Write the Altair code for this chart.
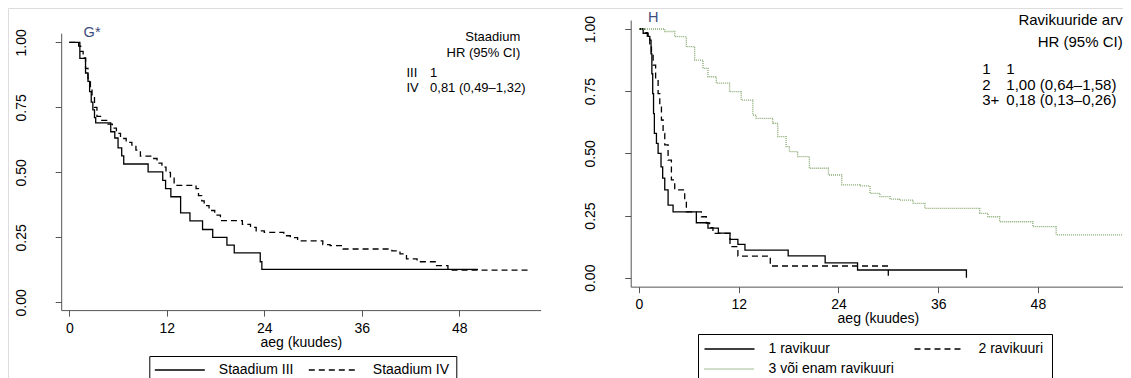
import altair as alt
import pandas as pd

# ---------------- data ----------------
x_ticks = [0, 12, 24, 36, 48]
y_ticks = [0.0, 0.25, 0.5, 0.75, 1.0]
x_title = "aeg (kuudes)"

# Panel G : Staadium
g_names = ["Staadium III", "Staadium IV"]
g3_t = [0, 1.3, 2.0, 2.3, 2.5, 2.7, 2.9, 3.1, 3.25, 5.1, 5.6, 6.0, 6.45, 6.7, 9.7,
        11.5, 11.85, 12.5, 13.7, 14.85, 16.4, 17.65, 19.4, 20.3, 23.5, 23.7, 50.3]
g3_s = [1.0, 0.938, 0.882, 0.85, 0.81, 0.77, 0.74, 0.71, 0.69, 0.656, 0.632, 0.594, 0.563, 0.532, 0.502,
        0.469, 0.437, 0.406, 0.344, 0.313, 0.28, 0.25, 0.22, 0.19, 0.156, 0.127, 0.127]
g4_t = [0, 1.15, 1.4, 1.7, 2.0, 2.3, 2.6, 2.8, 3.1, 3.4, 4.0, 4.6, 5.3, 5.8, 6.3, 7.0, 7.7,
        8.2, 8.75, 10.2, 10.8, 11.4, 11.9, 12.45, 12.9, 15.6, 15.9, 16.3, 16.6, 17.2, 17.9, 18.6,
        21.3, 22.3, 23.0, 24.0, 26.4, 27.2, 28.1, 31.2, 32.1, 33.7, 39.7, 40.7, 41.5, 42.8,
        45.2, 46.6, 56.8]
g4_s = [1.0, 0.985, 0.965, 0.94, 0.9, 0.86, 0.82, 0.79, 0.75, 0.715, 0.7, 0.685, 0.67, 0.65, 0.63, 0.615, 0.605,
        0.585, 0.562, 0.553, 0.535, 0.52, 0.5, 0.482, 0.45, 0.437, 0.41, 0.39, 0.372, 0.353, 0.335, 0.314,
        0.3, 0.288, 0.275, 0.269, 0.256, 0.249, 0.236, 0.222, 0.218, 0.205, 0.198, 0.186, 0.167, 0.156,
        0.141, 0.124, 0.124]
g_label = "G*"
g_hr_head = ["Staadium", "HR (95% CI)"]
g_hr_keys = ["III", "IV"]
g_hr_vals = ["1", "0,81 (0,49–1,32)"]

# Panel H : Ravikuuride arv
h_names = ["1 ravikuur", "2 ravikuuri", "3 või enam ravikuuri"]
h1_t = [0, 0.5, 1.1, 1.3, 1.45, 1.55, 1.65, 1.75, 1.85, 2.1, 2.3, 2.65, 2.85, 3.1, 3.5, 4.1,
        6.9, 8.3, 9.55, 10.95, 11.9, 12.75, 17.95, 22.4, 26.3, 39.4]
h1_s = [1.0, 0.983, 0.97, 0.955, 0.9, 0.82, 0.74, 0.66, 0.58, 0.54, 0.5, 0.446, 0.4, 0.353, 0.292, 0.265,
        0.221, 0.199, 0.179, 0.154, 0.134, 0.111, 0.088, 0.06, 0.031, 0.0]
h2_t = [0, 0.6, 1.0, 1.3, 1.5, 1.7, 2.0, 2.3, 2.5, 2.7, 2.9, 3.1, 3.5, 3.9, 4.3, 5.5, 5.7,
        7.5, 8.1, 8.5, 8.9, 10.95, 11.9, 15.8, 30.0]
h2_s = [1.0, 0.985, 0.97, 0.94, 0.9, 0.855, 0.8, 0.74, 0.69, 0.634, 0.58, 0.534, 0.473, 0.393, 0.353, 0.312, 0.265,
        0.245, 0.22, 0.201, 0.178, 0.125, 0.087, 0.047, 0.0]
h3_t = [0, 3.1, 4.3, 5.7, 6.7, 7.7, 8.3, 9.3, 10.9, 12.3, 13.7, 14.1, 16.1, 16.7, 17.7, 18.1, 19.1,
        20.5, 22.8, 24.4, 26.6, 27.8, 29.0, 30.2, 31.3, 33.0, 34.4, 41.0, 42.0, 43.4, 47.4, 50.2, 58.2]
h3_s = [1.0, 0.99, 0.969, 0.929, 0.875, 0.842, 0.808, 0.782, 0.748, 0.714, 0.654, 0.641, 0.621, 0.567, 0.527, 0.507, 0.487,
        0.44, 0.413, 0.373, 0.369, 0.339, 0.326, 0.316, 0.312, 0.299, 0.279, 0.259, 0.245, 0.225, 0.205, 0.172, 0.172]
h_label = "H"
h_hr_head = ["Ravikuuride arv", "HR (95% CI)"]
h_hr_keys = ["1", "2", "3+"]
h_hr_vals = ["1", "1,00 (0,64–1,58)", "0,18 (0,13–0,26)"]

# ---------------- layout (pixels inside the view) ----------------
W, H = 1115, 370
FONT = "Liberation Sans"
AXIS_GREY = "#555555"

G_X0, G_PX = 61.3, 8.125      # pixel of t = 0, pixels per month
G_Y0, G_PY = 294.3, 260.0     # pixel of S = 0, pixels per unit
G_XDOM, G_YDOM = [-1, 58], [-0.03, 1.035]
H_X0, H_PX = 631.0, 8.31
H_Y0, H_PY = 269.7, 248.7
H_XDOM, H_YDOM = [-1, 58.5], [-0.036, 1.036]


def xr(x0, px, dom):
    return [x0 + dom[0] * px, x0 + dom[1] * px]


def yr(y0, py, dom):
    return [y0 - dom[0] * py, y0 - dom[1] * py]


G_XR, G_YR = xr(G_X0, G_PX, G_XDOM), yr(G_Y0, G_PY, G_YDOM)
H_XR, H_YR = xr(H_X0, H_PX, H_XDOM), yr(H_Y0, H_PY, H_YDOM)


def scales(xdom, xrange_, ydom, yrange_):
    return (alt.Scale(domain=xdom, range=xrange_, nice=False, zero=False),
            alt.Scale(domain=ydom, range=yrange_, nice=False, zero=False))


def axes(xrange_, yrange_, title_pad):
    ax = alt.Axis(values=x_ticks, title=x_title, orient="bottom", offset=yrange_[0] - H,
                  grid=False, domainColor=AXIS_GREY, tickColor=AXIS_GREY, tickSize=6,
                  labelFont=FONT, labelFontSize=14, labelColor="black", labelPadding=5,
                  titleFont=FONT, titleFontSize=14, titleFontWeight="normal", titleColor="black",
                  titlePadding=title_pad, labelFlush=False)
    ay = alt.Axis(values=y_ticks, format=".2f", title=None, orient="left", offset=-xrange_[0],
                  grid=False, domainColor=AXIS_GREY, tickColor=AXIS_GREY, tickSize=6,
                  labelFont=FONT, labelFontSize=14, labelColor="black", labelAngle=270,
                  labelAlign="center", labelBaseline="alphabetic", labelPadding=30,
                  labelFlush=False)
    return ax, ay


def legend(lx, ly, col_pad, pad, row_pad):
    return alt.Legend(title=None, orient="none", legendX=lx, legendY=ly, direction="horizontal",
                      columns=2, symbolType="M-10,0H10", symbolSize=25, symbolStrokeWidth=1.3,
                      symbolOffset=16.5, labelOffset=32, labelFont=FONT, labelFontSize=14,
                      labelColor="black", strokeColor="black", padding=pad, columnPadding=col_pad,
                      rowPadding=row_pad, labelLimit=300)


# ---------------- panel G ----------------
gdf = pd.DataFrame({
    "t": g3_t + g4_t,
    "S": g3_s + g4_s,
    "grupp": [g_names[0]] * len(g3_t) + [g_names[1]] * len(g4_t),
})
gxs, gys = scales(G_XDOM, G_XR, G_YDOM, G_YR)
gax, gay = axes(G_XR, G_YR, 0)
g_line = alt.Chart(gdf).mark_line(interpolate="step-after", color="black", strokeWidth=1.3).encode(
    x=alt.X("t:Q", scale=gxs, axis=gax),
    y=alt.Y("S:Q", scale=gys, axis=gay),
    strokeDash=alt.StrokeDash("grupp:N", scale=alt.Scale(domain=g_names, range=[[1, 0], [6, 4]]),
                              legend=legend(141.3, 348, 11, 7, 4)),
)


def text_layer(df, xdom, xrange_, ydom, yrange_, align, color, size):
    xs, ys = scales(xdom, xrange_, ydom, yrange_)
    return alt.Chart(df).mark_text(font=FONT, fontSize=size, align=align, baseline="middle").encode(
        x=alt.X("t:Q", scale=xs, axis=None),
        y=alt.Y("S:Q", scale=ys, axis=None),
        text="txt:N",
        color=alt.value(color),
    )


g_head_df = pd.DataFrame({"t": [55.5, 55.5], "S": [1.021, 0.959], "txt": g_hr_head})
g_rows_df = pd.DataFrame({"t": [41.5, 41.5, 44.4, 44.4], "S": [0.883, 0.823, 0.883, 0.823],
                          "txt": g_hr_keys + g_hr_vals})
g_lab_df = pd.DataFrame({"t": [2.8], "S": [1.036], "txt": [g_label]})
g_layers = [
    text_layer(g_head_df, G_XDOM, G_XR, G_YDOM, G_YR, "right", "black", 13),
    text_layer(g_rows_df, G_XDOM, G_XR, G_YDOM, G_YR, "left", "black", 13),
    text_layer(g_lab_df, G_XDOM, G_XR, G_YDOM, G_YR, "center", "#3c4c7c", 14.5),
]

# ---------------- panel H ----------------
hdf = pd.DataFrame({
    "t": h1_t + h2_t + h3_t,
    "S": h1_s + h2_s + h3_s,
    "grupp": [h_names[0]] * len(h1_t) + [h_names[1]] * len(h2_t) + [h_names[2]] * len(h3_t),
})
hxs, hys = scales(H_XDOM, H_XR, H_YDOM, H_YR)
hax, hay = axes(H_XR, H_YR, 0)
h_leg = legend(690, 326, 17, 8, 6)
h_line = alt.Chart(hdf).mark_line(interpolate="step-after", strokeWidth=1.3).encode(
    x=alt.X("t:Q", scale=hxs, axis=hax),
    y=alt.Y("S:Q", scale=hys, axis=hay),
    color=alt.Color("grupp:N", scale=alt.Scale(domain=h_names, range=["black", "black", "#86a870"]),
                    legend=h_leg),
    strokeDash=alt.StrokeDash("grupp:N", scale=alt.Scale(domain=h_names, range=[[1, 0], [6, 4], [1, 1]]),
                              legend=h_leg),
)

h_head_df = pd.DataFrame({"t": [58.2, 58.2], "S": [1.036, 0.949], "txt": h_hr_head})
h_rows_df = pd.DataFrame({"t": [41.3] * 3 + [44.2] * 3, "S": [0.838, 0.774, 0.714] * 2,
                          "txt": h_hr_keys + h_hr_vals})
h_lab_df = pd.DataFrame({"t": [1.7], "S": [1.044], "txt": [h_label]})
h_layers = [
    text_layer(h_head_df, H_XDOM, H_XR, H_YDOM, H_YR, "right", "black", 15),
    text_layer(h_rows_df, H_XDOM, H_XR, H_YDOM, H_YR, "left", "black", 15),
    text_layer(h_lab_df, H_XDOM, H_XR, H_YDOM, H_YR, "center", "#3c4c7c", 14.5),
]

chart = alt.layer(g_line, *g_layers, h_line, *h_layers).resolve_scale(
    x="independent", y="independent", strokeDash="independent", color="independent"
).resolve_axis(x="independent", y="independent").resolve_legend(
    strokeDash="independent", color="independent"
).properties(
    width=W, height=H, padding=0, autosize=alt.AutoSizeParams(type="none")
).configure_view(stroke=None).configure(background="white")

chart.save("out.html", embed_options={"renderer": "svg", "actions": False})
